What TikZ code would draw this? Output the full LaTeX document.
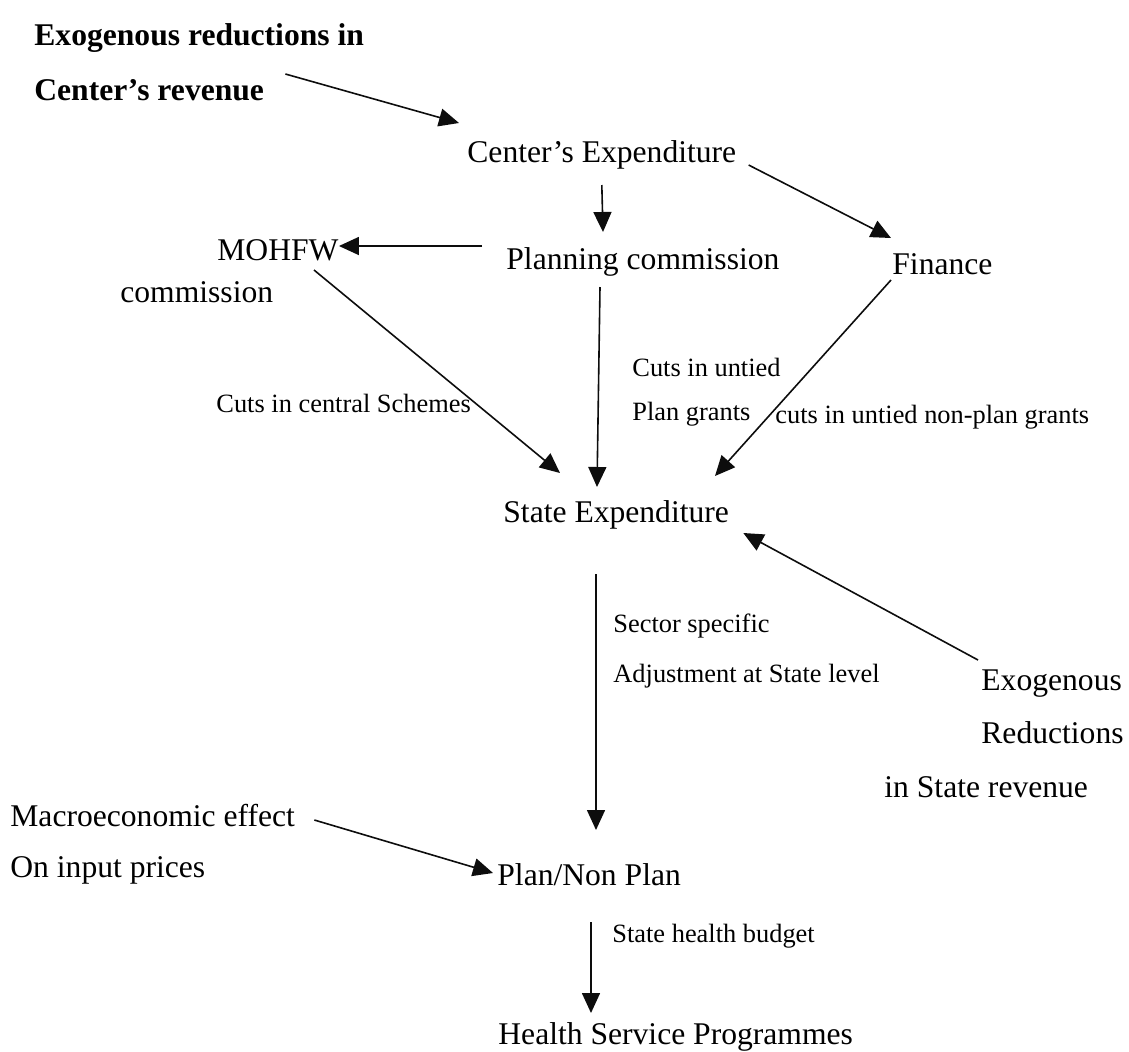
\documentclass[tikz,border=0pt]{standalone}
\usepackage{fontspec}
\setmainfont{Liberation Serif}
\usetikzlibrary{arrows.meta}

\begin{document}
\begin{tikzpicture}[x=0.5pt,y=-0.5pt,
    txt/.style={anchor=base west,inner sep=0pt,font=\fontsize{15.8}{18}\selectfont},
    btxt/.style={txt,font=\fontsize{15.8}{18}\selectfont\bfseries},
    lbl/.style={anchor=base west,inner sep=0pt,font=\fontsize{13.2}{15}\selectfont},
    arr/.style={draw=kInk,line width=0.8pt,-{Triangle[length=10pt,width=9pt]}}]
  \definecolor{kInk}{rgb}{0.05,0.05,0.05}
  \useasboundingbox (0,0) rectangle (1129,1051);

  % centre
  \node[btxt] (exogc1) at (34,45)  {Exogenous reductions in};
  \node[btxt] (exogc2) at (34,100) {Center’s revenue};
  \node[txt] (cexp)   at (467,162) {Center’s Expenditure};
  \node[txt] (mohfw)  at (217,260) {MOHFW};
  \node[txt] (mohfw2) at (120,302) {commission};
  \node[txt] (plan)   at (506,269) {Planning commission};
  \node[txt] (fin)    at (892,274) {Finance};

  % state
  \node[txt] (state)  at (503,522) {State Expenditure};
  \node[txt] (exogs1) at (981,690) {Exogenous};
  \node[txt] (exogs2) at (981,743) {Reductions};
  \node[txt] (exogs3) at (884,797) {in State revenue};
  \node[txt] (macro1) at (10,826)  {Macroeconomic effect};
  \node[txt] (macro2) at (10,877)  {On input prices};
  \node[txt] (plannp) at (497,885) {Plan/Non Plan};
  \node[txt] (health) at (498,1044) {Health Service Programmes};

  % labels on the flows
  \node[lbl] (lcentral) at (216,412) {Cuts in central Schemes};
  \node[lbl] (luntied1) at (632,376) {Cuts in untied};
  \node[lbl] (luntied2) at (632,420) {Plan grants};
  \node[lbl] (lnonplan) at (775,423) {cuts in untied non-plan grants};
  \node[lbl] (lsector1) at (613,632) {Sector specific};
  \node[lbl] (lsector2) at (613,682) {Adjustment at State level};
  \node[lbl] (lbudget)  at (612,942) {State health budget};

  % flows
  \draw[arr] ([shift={(21,-26)}]exogc2.base east) -- ([shift={(-8,-39)}]cexp.base west);
  \draw[arr] ([shift={(0,23)}]cexp.base) -- ([shift={(97,-37)}]plan.base west);
  \draw[arr] ([shift={(12,3)}]cexp.base east) -- ([shift={(-1,-36)}]fin.base west);
  \draw[arr] ([shift={(-24,-23)}]plan.base west) -- ([shift={(0,-14)}]mohfw.base east);
  \draw[arr] ([shift={(97,10)}]mohfw.base west) -- ([shift={(57,-49)}]state.base west);
  \draw[arr] ([shift={(94,18)}]plan.base west) -- ([shift={(94,-35)}]state.base west);
  \draw[arr] ([shift={(-1,6)}]fin.base west) -- ([shift={(212,-46)}]state.base west);
  \draw[arr] ([shift={(-3,-30)}]exogs1.base west) -- ([shift={(14,11)}]state.base east);
  \draw[arr] ([shift={(93,52)}]state.base west) -- ([shift={(99,-55)}]plannp.base west);
  \draw[arr] ([shift={(19,-6)}]macro1.base east) -- ([shift={(-4,-12)}]plannp.base west);
  \draw[arr] ([shift={(94,37)}]plannp.base west) -- ([shift={(93,-31)}]health.base west);
\end{tikzpicture}
\end{document}
